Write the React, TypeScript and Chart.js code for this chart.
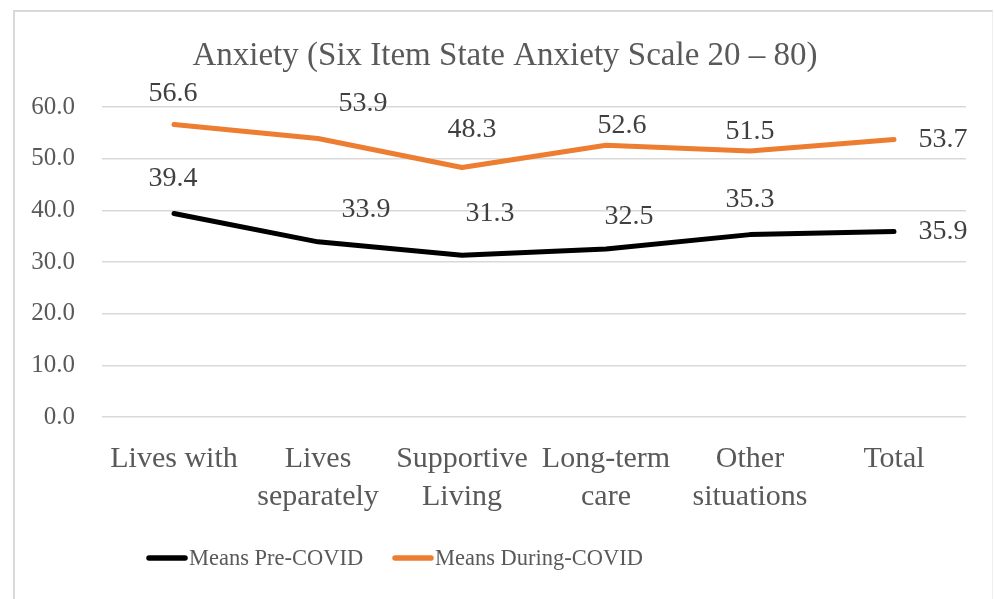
import React, { useEffect, useRef } from 'react';
import { Chart, registerables } from 'chart.js';
Chart.register(...registerables);

const categories: string[][] = [
  ['Lives with'],
  ['Lives', 'separately'],
  ['Supportive', 'Living'],
  ['Long-term', 'care'],
  ['Other', 'situations'],
  ['Total'],
];
const preCovid = [39.4, 33.9, 31.3, 32.5, 35.3, 35.9];
const duringCovid = [56.6, 53.9, 48.3, 52.6, 51.5, 53.7];
const seriesNames = ['Means Pre-COVID', 'Means During-COVID'];
const titleText = 'Anxiety (Six Item State Anxiety Scale 20 \u2013 80)';
const yMin = 0;
const yMax = 60;
const yStep = 10;

// label offsets (style only, pixels relative to the point)
const preOffsets = [[-1, -35], [48, -32], [28, -42], [23, -32], [0, -35], [49, 0]];
const duringOffsets = [[-1, -31], [45, -35], [10, -38], [16, -20], [0, -19], [49, 0]];

const FONT = '"Liberation Serif", "Times New Roman", serif';
const TEXT = '#595959';
const BLACK = '#000000';
const ORANGE = '#ED7D31';

const overlayPlugin = {
  id: 'overlay',
  afterDatasetsDraw(chart: any) {
    const ctx = chart.ctx;
    ctx.save();
    // data labels
    ctx.font = `28px ${FONT}`;
    ctx.fillStyle = '#404040';
    ctx.textAlign = 'center';
    ctx.textBaseline = 'middle';
    const offs = [preOffsets, duringOffsets];
    chart.data.datasets.forEach((ds: any, di: number) => {
      const meta = chart.getDatasetMeta(di);
      meta.data.forEach((pt: any, i: number) => {
        const o = offs[di][i];
        ctx.fillText(Number(ds.data[i]).toFixed(1), pt.x + o[0], pt.y + o[1]);
      });
    });
    // title
    ctx.font = `33px ${FONT}`;
    ctx.fillStyle = TEXT;
    ctx.textBaseline = 'alphabetic';
    ctx.fillText(titleText, 505, 65);
    // legend
    const legendY = 558;
    const items = [
      { x: 147, color: BLACK, text: seriesNames[0] },
      { x: 393, color: ORANGE, text: seriesNames[1] },
    ];
    ctx.font = `22.5px ${FONT}`;
    ctx.textAlign = 'left';
    ctx.textBaseline = 'middle';
    items.forEach((it) => {
      ctx.strokeStyle = it.color;
      ctx.lineWidth = 5.5;
      ctx.lineCap = 'round';
      ctx.beginPath();
      ctx.moveTo(it.x + 2, legendY);
      ctx.lineTo(it.x + 38, legendY);
      ctx.stroke();
      ctx.fillStyle = TEXT;
      ctx.fillText(it.text, it.x + 42, legendY + 1);
    });
    ctx.restore();
  },
};

export default function App() {
  const ref = useRef<HTMLCanvasElement>(null);
  useEffect(() => {
    document.body.style.margin = '0';
    const chart = new Chart(ref.current as HTMLCanvasElement, {
      type: 'line',
      data: {
        labels: categories,
        datasets: [
          {
            label: seriesNames[0],
            data: preCovid,
            borderColor: BLACK,
            backgroundColor: BLACK,
            borderWidth: 5,
            pointRadius: 0,
            tension: 0,
            borderCapStyle: 'round',
            borderJoinStyle: 'round',
          },
          {
            label: seriesNames[1],
            data: duringCovid,
            borderColor: ORANGE,
            backgroundColor: ORANGE,
            borderWidth: 5,
            pointRadius: 0,
            tension: 0,
            borderCapStyle: 'round',
            borderJoinStyle: 'round',
          },
        ],
      },
      options: {
        animation: false,
        responsive: false,
        layout: { padding: { left: 0, right: 29, top: 107, bottom: 0 } },
        plugins: {
          legend: { display: false },
          title: { display: false },
          tooltip: { enabled: false },
        },
        scales: {
          x: {
            offset: true,
            grid: { display: false },
            border: { display: false },
            ticks: {
              color: TEXT,
              font: { family: FONT, size: 30, lineHeight: 38 / 30 },
              padding: 15,
              maxRotation: 0,
              autoSkip: false,
            },
            afterFit(scale: any) {
              scale.height = 599 - 417 - 0;
            },
          },
          y: {
            min: yMin,
            max: yMax,
            grid: { color: '#d9d9d9', lineWidth: 1.5, drawTicks: false },
            border: { display: false },
            ticks: {
              stepSize: yStep,
              color: TEXT,
              font: { family: FONT, size: 25 },
              padding: 27,
              callback: (v: any) => Number(v).toFixed(1),
            },
            afterFit(scale: any) {
              scale.width = 102;
            },
          },
        },
      },
      plugins: [overlayPlugin],
    } as any);
    return () => chart.destroy();
  }, []);
  return (
    <div style={{ position: 'absolute', left: 0, top: 0, width: 995, height: 599, overflow: 'hidden', background: '#fff' }}>
      <div
        style={{
          position: 'absolute',
          left: 13,
          top: 10,
          width: 980,
          height: 620,
          borderLeft: '2px solid #d9d9d9',
          borderTop: '2px solid #d9d9d9',
          borderRight: '1px solid #eeeeee',
          boxSizing: 'border-box',
        }}
      />
      <canvas ref={ref} width={995} height={599} style={{ position: 'absolute', left: 0, top: 0, display: 'block' }} />
    </div>
  );
}
